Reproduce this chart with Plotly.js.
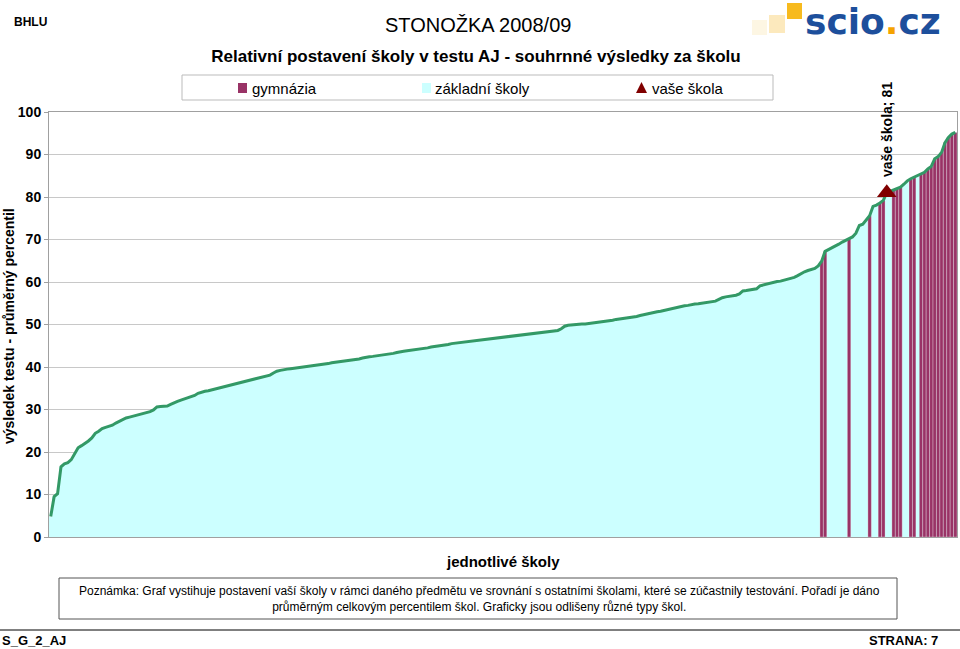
<!DOCTYPE html>
<html><head><meta charset="utf-8">
<script src="https://cdn.plot.ly/plotly-3.0.1.min.js"></script>
<style>html,body{margin:0;padding:0;background:#fff}#chart{width:960px;height:649px}</style>
</head><body><div id="chart"></div>
<script>
// ---- data ----
const schoolValues = [
4.8,9.5,10.2,16.5,17.2,17.5,18.2,19.5,21.0,21.5,
22.0,22.6,23.3,24.4,24.9,25.5,25.8,26.0,26.3,26.8,
27.2,27.6,28.0,28.2,28.4,28.6,28.9,29.1,29.3,29.5,
29.9,30.6,30.7,30.7,30.8,31.2,31.6,31.9,32.2,32.5,
32.8,33.0,33.3,33.8,34.1,34.3,34.4,34.6,34.8,35.0,
35.2,35.5,35.7,35.9,36.1,36.3,36.5,36.7,36.9,37.1,
37.3,37.5,37.7,37.9,38.1,38.6,39.0,39.2,39.4,39.5,
39.6,39.7,39.9,40.0,40.1,40.2,40.3,40.4,40.5,40.6,
40.7,40.8,41.0,41.1,41.2,41.3,41.4,41.5,41.6,41.7,
41.9,42.1,42.3,42.4,42.5,42.6,42.7,42.8,42.9,43.0,
43.2,43.4,43.6,43.7,43.8,43.9,44.0,44.1,44.2,44.3,
44.5,44.7,44.8,44.9,45.0,45.2,45.3,45.5,45.6,45.7,
45.8,45.9,46.0,46.1,46.2,46.3,46.4,46.5,46.6,46.7,
46.8,46.9,47.0,47.1,47.2,47.3,47.4,47.5,47.6,47.7,
47.8,47.9,48.0,48.0,48.1,48.2,48.3,48.4,48.6,49.0,
49.6,49.8,49.9,50.0,50.0,50.1,50.1,50.2,50.3,50.4,
50.5,50.7,50.8,50.9,51.0,51.2,51.3,51.4,51.5,51.6,
51.7,51.9,52.1,52.3,52.5,52.6,52.8,53.0,53.1,53.3,
53.4,53.6,53.8,54.0,54.2,54.4,54.5,54.7,54.8,54.9,
55.0,55.1,55.2,55.4,55.5,55.9,56.3,56.5,56.6,56.8,
56.9,57.2,57.9,58.0,58.1,58.2,58.4,59.1,59.3,59.6,
59.8,60.0,60.1,60.2,60.4,60.6,60.8,61.1,61.5,62.0,
62.4,62.7,62.9,63.2,63.8,64.9,67.2,67.6,68.0,68.4,
68.9,69.4,69.8,70.1,70.6,71.5,73.3,73.6,74.5,75.6,
77.8,78.1,78.6,79.2,81.0,81.3,81.6,82.0,82.3,83.0,
83.8,84.3,84.7,85.0,85.4,85.8,86.6,87.2,89.0,89.5,
90.5,92.8,94.0,94.8,95.2
];
const gymnasiumIdx = [225,226,233,239,242,243,246,247,248,251,252,254,255,256,257,258,259,260,261,262,263,264];
const ourSchoolIdx = 244;
const yTicks = [0,10,20,30,40,50,60,70,80,90,100];

const seriesNames = {gym: 'gymnázia', basic: 'základní školy', ours: 'vaše škola'};
const titleText = 'Relativní postavení školy v testu AJ - souhrnné výsledky za školu';
const headerText = 'STONOŽKA 2008/09';
const yTitle = 'výsledek testu - průměrný percentil';
const xTitle = 'jednotlivé školy';
const noteText = 'Poznámka: Graf vystihuje postavení vaší školy v rámci daného předmětu ve srovnání s ostatními školami, které se zúčastnily testování. Pořadí je dáno<br>průměrným celkovým percentilem škol. Graficky jsou odlišeny různé typy škol.';

// ---- build ----
const idx = schoolValues.map((v,i)=>i);
const F = 'Liberation Sans, Arial, sans-serif';
const L = 49, R = 957, T = 112, B = 537;
const PX = x => (x - L) / (R - L);
const PY = y => (B - y) / (B - T);

const traces = [
  {type:'bar', x:idx, y:schoolValues, width:1,
   marker:{color:'#CCFFFF', line:{width:0}}, name:seriesNames.basic, showlegend:false, hoverinfo:'skip'},
  {type:'bar', x:gymnasiumIdx, y:gymnasiumIdx.map(i=>schoolValues[i]), width:1,
   marker:{color:'#993366', line:{color:'#ffffff', width:0.3}}, name:seriesNames.gym, showlegend:false},
  {type:'scatter', mode:'lines', x:idx, y:schoolValues, line:{color:'#339966', width:3},
   showlegend:false, hoverinfo:'skip'},
  {type:'scatter', mode:'markers', x:[ourSchoolIdx], y:[schoolValues[ourSchoolIdx]],
   marker:{symbol:'triangle-up', size:17, color:'#800000'}, name:seriesNames.ours, showlegend:false}
];

const shapes = [
  {type:'rect', xref:'paper', yref:'paper', x0:PX(182), x1:PX(773), y0:PY(75), y1:PY(100), line:{color:'#BBBBBB', width:1}},
  {type:'rect', xref:'paper', yref:'paper', x0:PX(238), x1:PX(247), y0:PY(83), y1:PY(93), fillcolor:'#993366', line:{width:0}},
  {type:'rect', xref:'paper', yref:'paper', x0:PX(422), x1:PX(431), y0:PY(83), y1:PY(93), fillcolor:'#CCFFFF', line:{width:0}},
  {type:'path', xref:'paper', yref:'paper',
   path:`M ${PX(636)} ${PY(93)} L ${PX(647)} ${PY(93)} L ${PX(641.5)} ${PY(82)} Z`, fillcolor:'#800000', line:{width:0}},
  {type:'rect', xref:'paper', yref:'paper', x0:PX(59), x1:PX(897), y0:PY(578), y1:PY(619), line:{color:'#555555', width:1}},
  {type:'line', xref:'paper', yref:'paper', x0:PX(0), x1:PX(960), y0:PY(630), y1:PY(630), line:{color:'#000000', width:1}},
  {type:'rect', xref:'paper', yref:'paper', x0:PX(752), x1:PX(767), y0:PY(20), y1:PY(35), fillcolor:'#FDF6E3', line:{width:0}},
  {type:'rect', xref:'paper', yref:'paper', x0:PX(769), x1:PX(785), y0:PY(15), y1:PY(33), fillcolor:'#FCE9BD', line:{width:0}},
  {type:'rect', xref:'paper', yref:'paper', x0:PX(787), x1:PX(802), y0:PY(3), y1:PY(19), fillcolor:'#F7BA1E', line:{width:0}}
];

const annotations = [
  {xref:'paper', yref:'paper', x:PX(12), y:PY(22), xanchor:'left', yanchor:'middle', showarrow:false,
   text:'<b>BHLU</b>', font:{family:F, size:12, color:'#000'}},
  {xref:'paper', yref:'paper', x:PX(478), y:PY(25), xanchor:'center', yanchor:'middle', showarrow:false,
   text:headerText, font:{family:F, size:20, color:'#000'}},
  {xref:'paper', yref:'paper', x:PX(803), y:PY(21), xanchor:'left', yanchor:'middle', showarrow:false,
   text:'<b>scio<span style="color:#F5A300">.</span>cz</b>', font:{family:'DejaVu Sans, sans-serif', size:36, color:'#1D4F9C'}},
  {xref:'paper', yref:'paper', x:PX(250), y:PY(88), xanchor:'left', yanchor:'middle', showarrow:false,
   text:seriesNames.gym, font:{family:F, size:15, color:'#000'}},
  {xref:'paper', yref:'paper', x:PX(433), y:PY(88), xanchor:'left', yanchor:'middle', showarrow:false,
   text:seriesNames.basic, font:{family:F, size:15, color:'#000'}},
  {xref:'paper', yref:'paper', x:PX(650), y:PY(88), xanchor:'left', yanchor:'middle', showarrow:false,
   text:seriesNames.ours, font:{family:F, size:15, color:'#000'}},
  {xref:'x', yref:'y', x:ourSchoolIdx, y:schoolValues[ourSchoolIdx], xanchor:'center', yanchor:'bottom', yshift:14,
   textangle:-90, showarrow:false, text:'<b>' + seriesNames.ours + '; ' + schoolValues[ourSchoolIdx] + '</b>',
   font:{family:F, size:14, color:'#000'}},
  {xref:'paper', yref:'paper', x:PX(9), y:PY(326), xanchor:'center', yanchor:'middle', showarrow:false,
   textangle:-90, text:'<b>' + yTitle + '</b>', font:{family:F, size:14, color:'#000'}},
  {xref:'paper', yref:'paper', x:PX(503), y:PY(561), xanchor:'center', yanchor:'middle', showarrow:false,
   text:'<b>' + xTitle + '</b>', font:{family:F, size:15, color:'#000'}},
  {xref:'paper', yref:'paper', x:PX(479), y:PY(599), xanchor:'center', yanchor:'middle', showarrow:false,
   text:noteText, font:{family:F, size:12, color:'#000'}},
  {xref:'paper', yref:'paper', x:PX(0), y:PY(640), xanchor:'left', yanchor:'middle', showarrow:false,
   text:'<b>S_G_2_AJ</b>', font:{family:F, size:13, color:'#000'}},
  {xref:'paper', yref:'paper', x:PX(940), y:PY(640), xanchor:'right', yanchor:'middle', showarrow:false,
   text:'<b>STRANA: 7</b>', font:{family:F, size:13, color:'#000'}}
];

const layout = {
  width:960, height:649,
  margin:{l:L, r:960-R, t:T, b:649-B, pad:0},
  paper_bgcolor:'#fff', plot_bgcolor:'#fff',
  showlegend:false,
  barmode:'overlay', bargap:0,
  title:{text:'<b>' + titleText + '</b>', x:PX(476), xref:'paper', y:1 - 56/649, yanchor:'middle', xanchor:'center',
    font:{family:F, size:17, color:'#000'}},
  xaxis:{range:[-0.5, schoolValues.length - 0.5], showticklabels:false, ticks:'', showgrid:false, zeroline:false,
    showline:true, mirror:true, linecolor:'#A0A0A0', linewidth:1, fixedrange:true},
  yaxis:{range:[0,100], tickvals:yTicks, ticktext:yTicks.map(String), showgrid:true, gridcolor:'#C8C8C8', gridwidth:1,
    zeroline:false, showline:true, mirror:true, linecolor:'#A0A0A0', linewidth:1, ticks:'outside', ticklen:4, tickcolor:'#A0A0A0',
    tickfont:{family:F, size:14, color:'#000', weight:'bold'}, fixedrange:true},
  shapes:shapes,
  annotations:annotations
};

Plotly.newPlot('chart', traces, layout, {displayModeBar:false, staticPlot:true});
</script>
</body></html>
